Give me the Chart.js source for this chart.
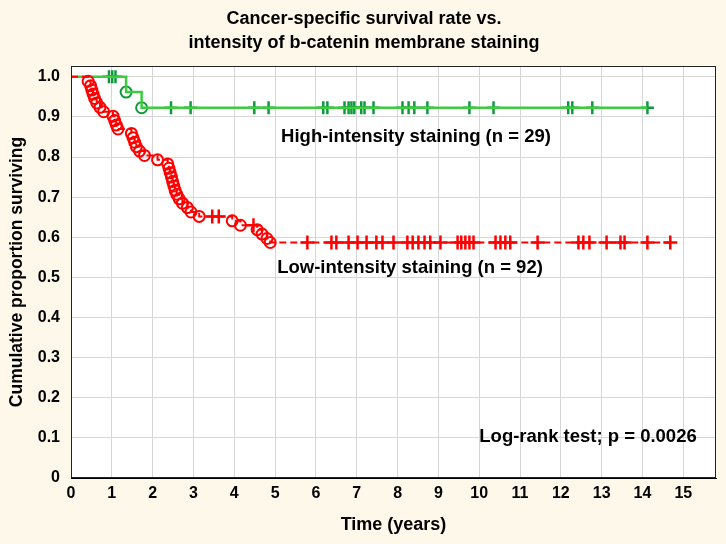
<!DOCTYPE html>
<html>
<head>
<meta charset="utf-8">
<script src="https://cdn.jsdelivr.net/npm/chart.js@4/dist/chart.umd.min.js"></script>
<style>
  html, body { margin: 0; padding: 0; background: #fdf8e9; }
  #wrap { width: 726px; height: 544px; }
</style>
</head>
<body>
<div id="wrap"><canvas id="km" width="726" height="544"></canvas></div>
<script>
// ticks
const xTicks = [0, 1, 2, 3, 4, 5, 6, 7, 8, 9, 10, 11, 12, 13, 14, 15];
const yTicks = [0, 0.1, 0.2, 0.3, 0.4, 0.5, 0.6, 0.7, 0.8, 0.9, 1.0];

// High-intensity staining (n = 29): events (circles) and censored (+)
const highEventTimes = [1.35, 1.73];
const highEventSurv = [0.962, 0.923];
const highCensorTimes = [0.93, 1.01, 1.09, 2.45, 2.93, 4.49, 4.84, 6.18, 6.28, 6.70, 6.80, 6.87,
  6.94, 7.11, 7.19, 7.41, 8.12, 8.27, 8.41, 8.73, 9.76, 10.35, 12.18, 12.28, 12.77, 14.12];

// Low-intensity staining (n = 92)
const lowEventTimes = [0.42, 0.48, 0.51, 0.54, 0.58, 0.63, 0.71, 0.80, 1.03, 1.07, 1.11, 1.15,
  1.48, 1.52, 1.56, 1.60, 1.68, 1.80, 2.12, 2.37, 2.40, 2.43, 2.46, 2.49, 2.52, 2.55, 2.59,
  2.65, 2.73, 2.85, 2.94, 3.14, 3.95, 4.15, 4.56, 4.68, 4.80, 4.88];
const lowEventSurv = [0.989, 0.978, 0.967, 0.957, 0.946, 0.935, 0.924, 0.913, 0.902, 0.891, 0.880, 0.870,
  0.859, 0.848, 0.837, 0.826, 0.815, 0.804, 0.793, 0.783, 0.772, 0.761, 0.750, 0.739, 0.728, 0.717, 0.707,
  0.696, 0.685, 0.674, 0.663, 0.652, 0.641, 0.630, 0.619, 0.608, 0.597, 0.587];
const lowCensorTimes = [3.46, 3.62, 4.47, 5.79, 6.38, 6.50, 6.80, 7.02, 7.24, 7.48, 7.63, 7.90, 8.24,
  8.37, 8.51, 8.66, 8.80, 9.05, 9.47, 9.56, 9.66, 9.76, 9.86, 10.40, 10.52, 10.64, 10.76, 11.43,
  12.43, 12.55, 12.70, 13.12, 13.46, 13.56, 14.12, 14.68];

const RED = "#ff0000";
const GREEN_LINE = "#3ccc3c";
const GREEN_MARK = "#0e9a3c";
const SANS = "'Liberation Sans', Arial, sans-serif";

// survival level of the step curve at time t
function levelAt(times, surv, t) {
  let s = 1;
  for (let i = 0; i < times.length; i++) {
    if (times[i] <= t) s = surv[i];
  }
  return s;
}

function stepPoints(times, surv, censors) {
  const pts = [{ x: 0, y: 1 }];
  times.forEach((t, i) => pts.push({ x: t, y: surv[i] }));
  const end = Math.max(...censors);
  pts.push({ x: end, y: surv[surv.length - 1] });
  return pts;
}

function eventPoints(times, surv) {
  return times.map((t, i) => ({ x: t, y: surv[i] }));
}

function censorPoints(censors, times, surv) {
  return censors.map(t => ({ x: t, y: levelAt(times, surv, t) }));
}

const paper = {
  id: "paper",
  beforeDraw(chart) {
    const { ctx, chartArea: a } = chart;
    ctx.save();
    ctx.fillStyle = "#fdf8e9";
    ctx.fillRect(0, 0, chart.width, chart.height);
    ctx.fillStyle = "#ffffff";
    ctx.fillRect(a.left, a.top, a.right - a.left, a.bottom - a.top);
    ctx.restore();
  },
  afterDraw(chart) {
    const { ctx, chartArea: a } = chart;
    ctx.save();
    ctx.strokeStyle = "#222";
    ctx.lineWidth = 1;
    ctx.strokeRect(a.left + 0.5, a.top + 0.5, a.right - a.left - 1, a.bottom - a.top - 1);

    ctx.fillStyle = "#000";
    ctx.textAlign = "center";
    ctx.textBaseline = "middle";
    ctx.font = "bold 18px " + SANS;
    ctx.fillText("Cancer-specific survival rate vs.", 364, 19);
    ctx.fillText("intensity of b-catenin membrane staining", 364, 43);

    ctx.font = "bold 18.5px " + SANS;
    ctx.fillText("High-intensity staining (n = 29)", 416, 137);
    ctx.fillText("Low-intensity staining (n = 92)", 410, 268);
    ctx.fillText("Log-rank test; p = 0.0026", 588, 437);
    ctx.restore();
  }
};

new Chart(document.getElementById("km"), {
  type: "scatter",
  data: {
    datasets: [
      {
        label: "low line",
        data: stepPoints(lowEventTimes, lowEventSurv, lowCensorTimes),
        showLine: true,
        stepped: true,
        borderColor: RED,
        borderWidth: 2,
        borderDash: [7, 4],
        pointRadius: 0
      },
      {
        label: "low events",
        data: eventPoints(lowEventTimes, lowEventSurv),
        pointStyle: "circle",
        pointRadius: 5.5,
        borderColor: RED,
        borderWidth: 2,
        backgroundColor: "rgba(0,0,0,0)"
      },
      {
        label: "low censored",
        data: censorPoints(lowCensorTimes, lowEventTimes, lowEventSurv),
        pointStyle: "cross",
        pointRadius: 7,
        borderColor: RED,
        borderWidth: 2.5
      },
      {
        label: "high line",
        data: stepPoints(highEventTimes, highEventSurv, highCensorTimes),
        showLine: true,
        stepped: true,
        borderColor: GREEN_LINE,
        borderWidth: 2.5,
        pointRadius: 0
      },
      {
        label: "high events",
        data: eventPoints(highEventTimes, highEventSurv),
        pointStyle: "circle",
        pointRadius: 5.5,
        borderColor: GREEN_MARK,
        borderWidth: 2,
        backgroundColor: "rgba(0,0,0,0)"
      },
      {
        label: "high censored",
        data: censorPoints(highCensorTimes, highEventTimes, highEventSurv),
        pointStyle: "cross",
        pointRadius: 6.5,
        borderColor: GREEN_MARK,
        borderWidth: 2.5
      }
    ]
  },
  options: {
    responsive: false,
    animation: false,
    devicePixelRatio: 1,
    layout: { padding: { top: 66, right: 10, left: 0, bottom: 0 } },
    plugins: {
      legend: { display: false },
      tooltip: { enabled: false }
    },
    scales: {
      x: {
        type: "linear",
        min: 0,
        max: 15.8,
        afterBuildTicks: s => { s.ticks = xTicks.map(v => ({ value: v })); },
        afterFit: s => { s.height = 66; },
        ticks: {
          color: "#000",
          font: { family: SANS, size: 16, weight: "bold" },
          padding: 6,
          maxRotation: 0,
          autoSkip: false,
          callback: v => String(v)
        },
        grid: { color: "#d6d6d6", drawTicks: false },
        border: { color: "#000", width: 1 },
        title: {
          display: true,
          text: "Time (years)",
          color: "#000",
          font: { family: SANS, size: 18, weight: "bold" },
          padding: { top: 0, bottom: 8 }
        }
      },
      y: {
        type: "linear",
        min: 0,
        max: 1.027,
        afterBuildTicks: s => { s.ticks = yTicks.map(v => ({ value: v })); },
        afterFit: s => { s.width = 71; },
        ticks: {
          color: "#000",
          font: { family: SANS, size: 16, weight: "bold" },
          padding: 11,
          callback: v => (v === 0 ? "0" : v.toFixed(1))
        },
        grid: { color: "#d6d6d6", drawTicks: false },
        border: { color: "#000", width: 1 },
        title: {
          display: true,
          text: "Cumulative proportion surviving",
          color: "#000",
          font: { family: SANS, size: 17.5, weight: "bold" },
          padding: { top: 7, bottom: 0 }
        }
      }
    }
  },
  plugins: [paper]
});
</script>
</body>
</html>
